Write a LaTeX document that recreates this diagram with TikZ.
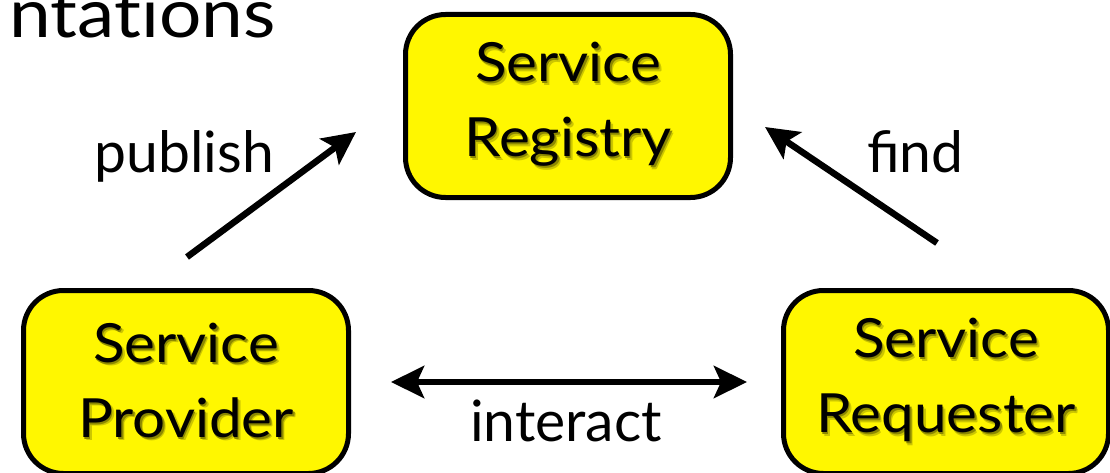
\documentclass[tikz,border=0pt]{standalone}
\usepackage{fontspec}
\setmainfont{Lato}
\newfontfamily\boxfont[FakeStretch=1.08]{Lato}
\newfontfamily\titlefont[FakeStretch=1.1, Ligatures=NoCommon]{Lato}
\usetikzlibrary{arrows.meta}

\definecolor{serviceyellow}{RGB}{255,247,0}
\colorlet{textshade}{serviceyellow!55!black}
\colorlet{textglow}{serviceyellow!80!black}

\newcommand{\shadowtext}[1]{\makebox[0pt][l]{\kern3pt\raisebox{-3.5pt}{\color{textglow}#1}}\makebox[0pt][l]{\kern1.5pt\raisebox{-2pt}{\color{textshade}#1}}#1}

\def\boxwidth{325pt}
\def\boxheight{183pt}
\tikzstyle{service}=[rectangle, rounded corners=40pt, draw=black, line width=5pt, fill=serviceyellow, minimum width=\boxwidth, minimum height=\boxheight, align=center, font=\boxfont\fontsize{54}{75}\selectfont]
\tikzstyle{tag}=[inner sep=0pt, font=\fontsize{57}{70}\selectfont]
\tikzstyle{flow}=[line width=6.5pt]

\begin{document}
\begin{tikzpicture}[x=1pt, y=1pt, >={Stealth[length=33pt, width=32pt, inset=7pt]}]
  \useasboundingbox (0,0) rectangle (1110,-473);

  % slide title, cut off
  \node [inner sep=0pt, anchor=base east, font=\titlefont\fontsize{68}{75}\selectfont] (title) at (276,-38) {ntations};

  % the three roles
  \node [service] (registry) at (568,-106) {\shadowtext{Service}\\\shadowtext{Registry}};
  \node [service] (provider) at (186,-382) {\shadowtext{Service}\\\shadowtext{Provider}};
  \node [service] (requester) at (946,-382) {\shadowtext{Service}\\\shadowtext{Requester}};

  % publish and find
  \draw [flow, ->] ([xshift=1pt, yshift=31pt]provider.north) -- ([xshift=-47pt, yshift=68pt]registry.south west);
  \draw [flow, ->] ([xshift=-9pt, yshift=45pt]requester.north) -- ([xshift=32pt, yshift=73pt]registry.south east);

  % interact
  \draw [flow, <->, shorten <=40pt, shorten >=34pt] (provider.east) -- (requester.west);

  % labels
  \node [tag, anchor=base east] (publish) at (274,-173) {publish};
  \node [tag, anchor=base west] (find) at (867,-173) {find};
  \node [tag, anchor=base] (interact) at (566,-441) {interact};
\end{tikzpicture}
\end{document}
